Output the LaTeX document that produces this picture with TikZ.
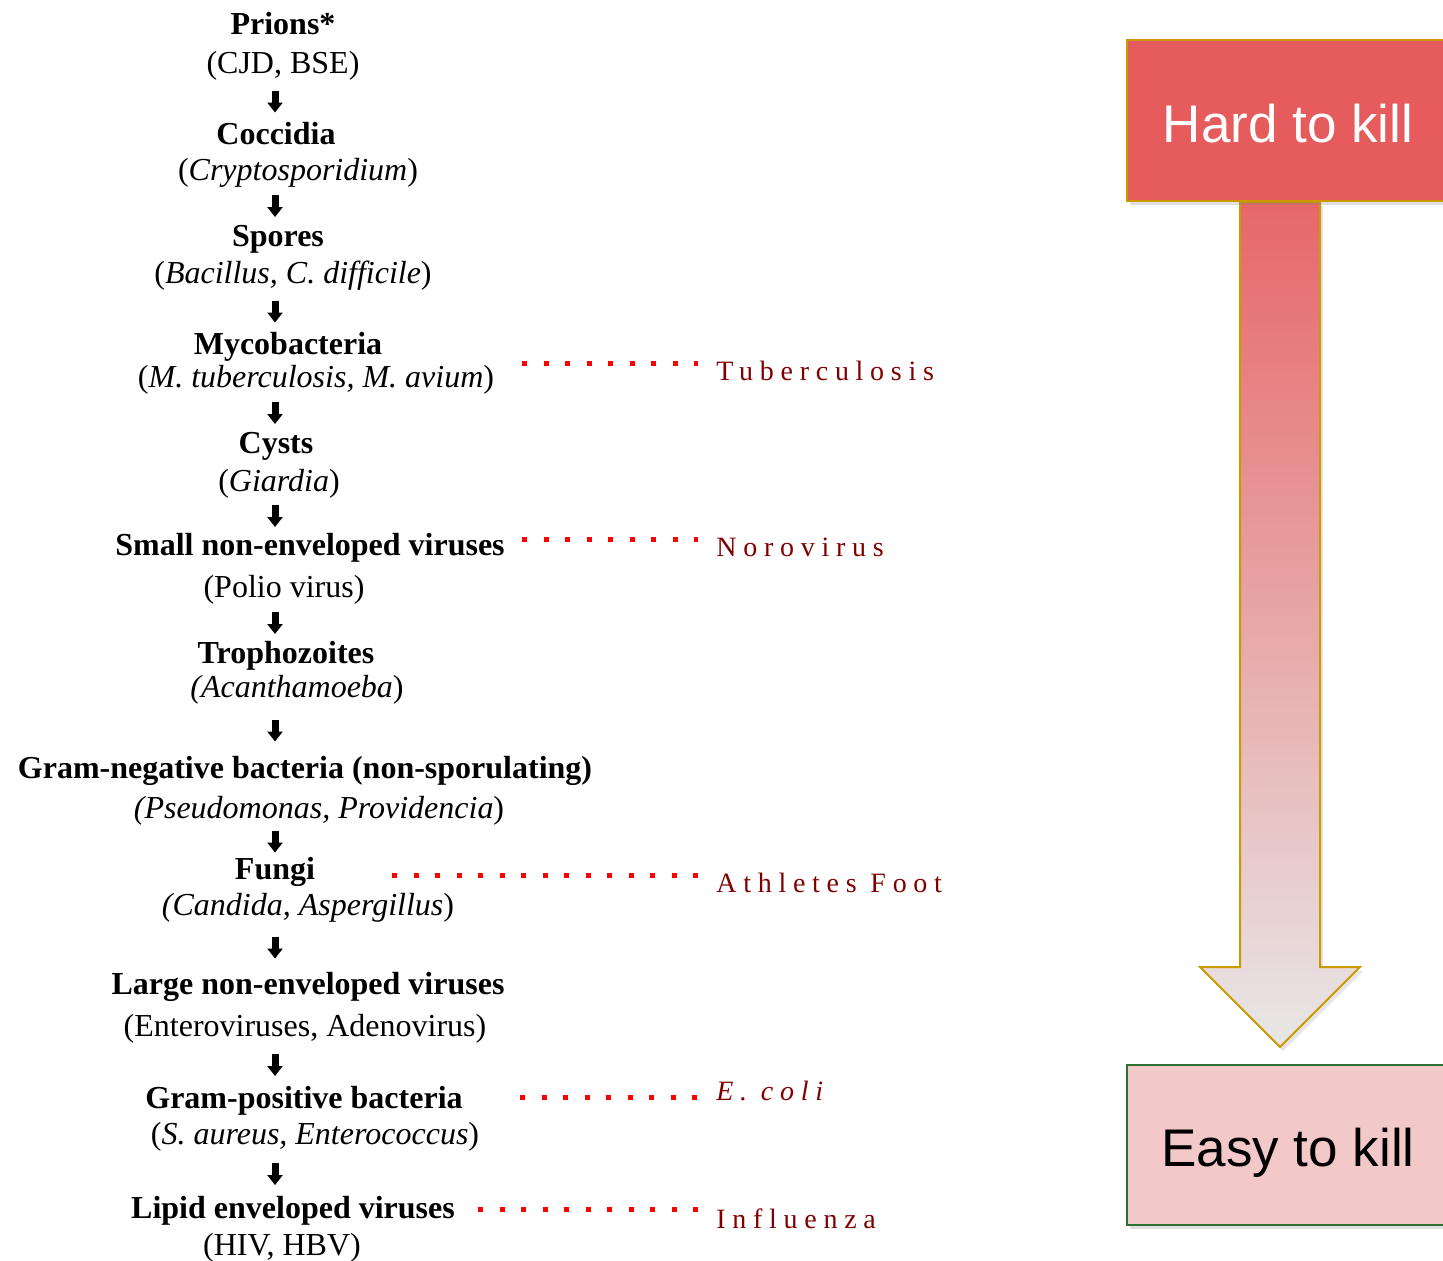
\documentclass[tikz,border=0pt]{standalone}
\usepackage{fontspec}
\setmainfont{Liberation Serif}
\setsansfont{Liberation Sans}
\newfontfamily\spaced[LetterSpace=24]{Liberation Serif}
\usetikzlibrary{shapes,arrows.meta,positioning,calc,shadows,backgrounds}
\definecolor{hardred}{HTML}{E65C5C}
\definecolor{easypink}{HTML}{F2C8C8}
\definecolor{gold}{HTML}{CC9900}
\definecolor{leafgreen}{HTML}{2E7031}
\definecolor{arrowtop}{HTML}{E76769}
\definecolor{arrowbot}{HTML}{E8E7E7}
\definecolor{maroon}{HTML}{800000}

\begin{document}
\begin{tikzpicture}[x=0.5pt, y=-0.5pt,
    organism/.style={font=\fontsize{16}{19}\selectfont\bfseries, inner sep=0pt, text height=11pt, text depth=3.5pt, yshift=-2pt},
    examples/.style={font=\fontsize{16}{19}\selectfont, inner sep=0pt, text height=11pt, text depth=3.5pt, yshift=-1.5pt},
    line/.style={draw, -{Triangle[width=7.5pt, length=5pt]}, line width=3.5pt},
    leader/.style={draw=red, line width=2.5pt, dash pattern=on 2.5pt off 8.25pt, shorten >=9pt},
    disease/.style={font=\spaced\fontsize{14}{16}\selectfont, text=maroon, inner sep=0pt, anchor=base west},
    block/.style={rectangle, minimum width=161pt, minimum height=80.5pt, line width=1pt, text height=22pt, text depth=0pt, font=\sffamily\fontsize{26.5}{30}\selectfont, drop shadow={shadow xshift=1.5pt, shadow yshift=-2pt, opacity=0.25}},
    bigarrow/.style={draw=gold, line width=1pt, top color=arrowtop, bottom color=arrowbot, drop shadow={shadow xshift=1.5pt, shadow yshift=-2pt, opacity=0.2}}]

    \useasboundingbox (0,0) rectangle (1443,1260);

    \node [organism] (prions) at (283,23) {Prions*};
    \node [examples] (prionsex) at (283,63) {(CJD, BSE)};
    \node [organism] (coccidia) at (276,133) {Coccidia};
    \node [examples] (coccidiaex) at (298,170) {(\textit{Cryptosporidium})};
    \node [organism] (spores) at (278,235) {Spores};
    \node [examples] (sporesex) at (293,273) {(\textit{Bacillus, C. difficile})};
    \node [organism] (myco) at (288,343) {Mycobacteria};
    \node [examples] (mycoex) at (316,377) {(\textit{M. tuberculosis, M. avium})};
    \node [organism] (cysts) at (276,442) {Cysts};
    \node [examples] (cystsex) at (279,481) {(\textit{Giardia})};
    \node [organism] (smallvir) at (310,544) {Small non-enveloped viruses};
    \node [examples] (smallvirex) at (284,587) {(Polio virus)};
    \node [organism] (tropho) at (286,652) {Trophozoites};
    \node [examples] (trophoex) at (297,687) {\textit{(Acanthamoeba})};
    \node [organism] (gramneg) at (305,767) {Gram-negative bacteria (non-sporulating)};
    \node [examples] (gramnegex) at (319,808) {\textit{(Pseudomonas, Providencia})};
    \node [organism] (fungi) at (275,868) {Fungi};
    \node [examples] (fungiex) at (308,905) {\textit{(Candida, Aspergillus})};
    \node [organism] (largevir) at (308,983) {Large non-enveloped viruses};
    \node [examples] (largevirex) at (305,1026) {(Enteroviruses, Adenovirus)};
    \node [organism] (grampos) at (304,1097) {Gram-positive bacteria};
    \node [examples] (gramposex) at (315,1134) {(\textit{S. aureus, Enterococcus})};
    \node [organism] (lipid) at (293,1207) {Lipid enveloped viruses};
    \node [examples] (lipidex) at (282,1245) {(HIV, HBV)};

    \coordinate (axis) at (275,0);
    \foreach \src/\dst in {prionsex/coccidia, coccidiaex/spores, sporesex/myco, mycoex/cysts,
        cystsex/smallvir, smallvirex/tropho, trophoex/gramneg, gramnegex/fungi,
        fungiex/largevir, largevirex/grampos, gramposex/lipid}
        \path [line] ($(\src.south -| axis)!.5!(\dst.north -| axis)+(0,-11)$) -- ($(\src.south -| axis)!.5!(\dst.north -| axis)+(0,11)$);

    \node [disease] (tb) at (716,380) {Tuberculosis};
    \node [disease] (noro) at (716,556) {Norovirus};
    \node [disease] (foot) at (716,892) {Athletes Foot};
    \node [disease] (coli) at (716,1100) {\itshape E. coli};
    \node [disease] (flu) at (716,1228) {Influenza};

    \coordinate (tbfrom) at (522,363);
    \coordinate (norofrom) at (522,539);
    \coordinate (footfrom) at (392,875);
    \coordinate (colifrom) at (520,1097);
    \coordinate (flufrom) at (478,1209);
    \path [leader] (tbfrom) -- (tbfrom -| tb.west);
    \path [leader] (norofrom) -- (norofrom -| noro.west);
    \path [leader] (footfrom) -- (footfrom -| foot.west);
    \path [leader] (colifrom) -- (colifrom -| coli.west);
    \path [leader] (flufrom) -- (flufrom -| flu.west);

    \node [block, fill=hardred, draw=gold, text=white] (hard) at (1288,120.5) {Hard to kill};
    \node [block, fill=easypink, draw=leafgreen, minimum height=80pt, text height=21pt] (easy) at (1288,1145) {Easy to kill};

    \coordinate (stem) at (1280,0);
    \begin{scope}[on background layer]
        \path [bigarrow] ($(hard.south -| stem)+(-40,0)$) -- ($(easy.north -| stem)+(-40,-97)$) -- ++(-40,0)
            -- ($(easy.north -| stem)+(0,-17)$) -- ++(80,-80) -- ++(-40,0) -- ($(hard.south -| stem)+(40,0)$) -- cycle;
    \end{scope}
\end{tikzpicture}
\end{document}
